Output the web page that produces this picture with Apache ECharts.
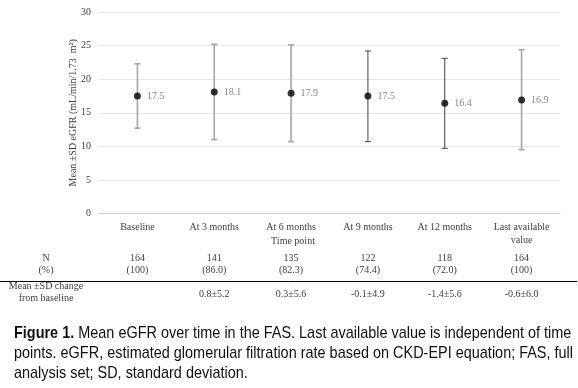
<!DOCTYPE html>
<html><head><meta charset="utf-8">
<script src="https://cdn.jsdelivr.net/npm/echarts@6/dist/echarts.min.js"></script>
<style>html,body{margin:0;padding:0;background:#fff}#c{width:578px;height:388px}</style>
</head><body><div id="c"></div>
<script>
const categories = ['Baseline', 'At 3 months', 'At 6 months', 'At 9 months', 'At 12 months', 'Last available\nvalue'];
const means = [17.5, 18.1, 17.9, 17.5, 16.4, 16.9];
const errLow = [12.7, 11.0, 10.7, 10.7, 9.7, 9.5];
const errHigh = [22.3, 25.2, 25.1, 24.2, 23.1, 24.4];
const nValues = ['164', '141', '135', '122', '118', '164'];
const pctValues = ['(100)', '(86.0)', '(82.3)', '(74.4)', '(72.0)', '(100)'];
const changeValues = ['', '0.8±5.2', '0.3±5.6', '-0.1±4.9', '-1.4±5.6', '-0.6±6.0'];
const yTicks = [0, 5, 10, 15, 20, 25, 30];

const barStyle = ['light', 'light', 'light', 'dark', 'dark', 'light'];
const serif = '"Liberation Serif", "DejaVu Serif", serif';
const sans = '"Liberation Sans", Arial, sans-serif';
const textCol = '#404040';

const chart = echarts.init(document.getElementById('c'));
const idx = categories.map((_, i) => i);

function tableItem(values, y) {
  return function (params, api) {
    const i = api.value(0);
    const x = api.coord([i, 0])[0];
    return { type: 'text', style: { text: values[i], x: x, y: y, align: 'center', verticalAlign: 'middle', font: '10px ' + serif, fill: textCol } };
  };
}

function capLine(text, y, rich) {
  return { type: 'text', x: 14, y: y, scaleX: 0.85, style: { text: text, verticalAlign: 'middle', font: '17px ' + sans, fill: '#111', rich: rich } };
}

chart.setOption({
  animation: false,
  grid: { left: 99, right: 18, top: 12, bottom: 174.5, containLabel: false },
  xAxis: {
    type: 'category', data: categories, boundaryGap: true,
    axisLine: { lineStyle: { color: '#d0d0d0', width: 1 } },
    axisTick: { show: false },
    axisLabel: { color: textCol, fontFamily: serif, fontSize: 10, margin: 7, lineHeight: 13, interval: 0 }
  },
  yAxis: {
    type: 'value', min: yTicks[0], max: yTicks[yTicks.length - 1], interval: 5,
    name: 'Mean ±SD eGFR (mL/min/1.73  m²)', nameLocation: 'middle', nameGap: 21, nameMoveOverlap: false,
    nameTextStyle: { color: textCol, fontFamily: serif, fontSize: 10 },
    axisLine: { show: false }, axisTick: { show: false },
    axisLabel: { color: textCol, fontFamily: serif, fontSize: 10, margin: 8 },
    splitLine: { lineStyle: { color: '#e6e6e6', width: 1 } }
  },
  series: [
    {
      type: 'custom',
      data: idx.map(i => [i, errLow[i], errHigh[i]]),
      renderItem: function (params, api) {
        const i = api.value(0);
        const lo = api.coord([i, api.value(1)]);
        const hi = api.coord([i, api.value(2)]);
        const dark = barStyle[i] === 'dark';
        const style = { stroke: dark ? '#404040' : '#a6a6a6', lineWidth: dark ? 1 : 1.6 };
        const cw = 3;
        return { type: 'group', children: [
          { type: 'line', shape: { x1: hi[0], y1: hi[1], x2: lo[0], y2: lo[1] }, style: style },
          { type: 'line', shape: { x1: hi[0] - cw, y1: hi[1], x2: hi[0] + cw, y2: hi[1] }, style: style },
          { type: 'line', shape: { x1: lo[0] - cw, y1: lo[1], x2: lo[0] + cw, y2: lo[1] }, style: style }
        ] };
      },
      z: 2
    },
    {
      type: 'scatter', data: means, symbol: 'circle', symbolSize: 7,
      itemStyle: { color: '#000' },
      label: { show: true, position: 'right', distance: 6, color: '#666', fontFamily: serif, fontSize: 10,
        formatter: p => p.value.toFixed(1) },
      z: 3
    },
    { type: 'custom', data: idx.map(i => [i]), renderItem: tableItem(nValues, 258), clip: false, silent: true },
    { type: 'custom', data: idx.map(i => [i]), renderItem: tableItem(pctValues, 270), clip: false, silent: true },
    { type: 'custom', data: idx.map(i => [i]), renderItem: tableItem(changeValues, 294), clip: false, silent: true }
  ],
  graphic: [
    { type: 'text', x: 293, y: 241, style: { text: 'Time point', font: '10px ' + serif, fill: textCol, align: 'center', verticalAlign: 'middle' } },
    { type: 'text', x: 46, y: 258, style: { text: 'N', font: '10px ' + serif, fill: textCol, align: 'center', verticalAlign: 'middle' } },
    { type: 'text', x: 46, y: 270, style: { text: '(%)', font: '10px ' + serif, fill: textCol, align: 'center', verticalAlign: 'middle' } },
    { type: 'line', shape: { x1: 0, y1: 281.5, x2: 577, y2: 281.5 }, style: { stroke: '#000', lineWidth: 1 } },
    { type: 'text', x: 46, y: 286, style: { text: 'Mean ±SD change', font: '10px ' + serif, fill: textCol, align: 'center', verticalAlign: 'middle' } },
    { type: 'text', x: 46, y: 298, style: { text: 'from baseline', font: '10px ' + serif, fill: textCol, align: 'center', verticalAlign: 'middle' } },
    capLine('{b|Figure 1.} Mean eGFR over time in the FAS. Last available value is independent of time', 333,
      { b: { font: 'bold 17px ' + sans, fill: '#111' } }),
    capLine('points. eGFR, estimated glomerular filtration rate based on CKD-EPI equation; FAS, full', 353),
    capLine('analysis set; SD, standard deviation.', 373)
  ]
});
</script></body></html>
